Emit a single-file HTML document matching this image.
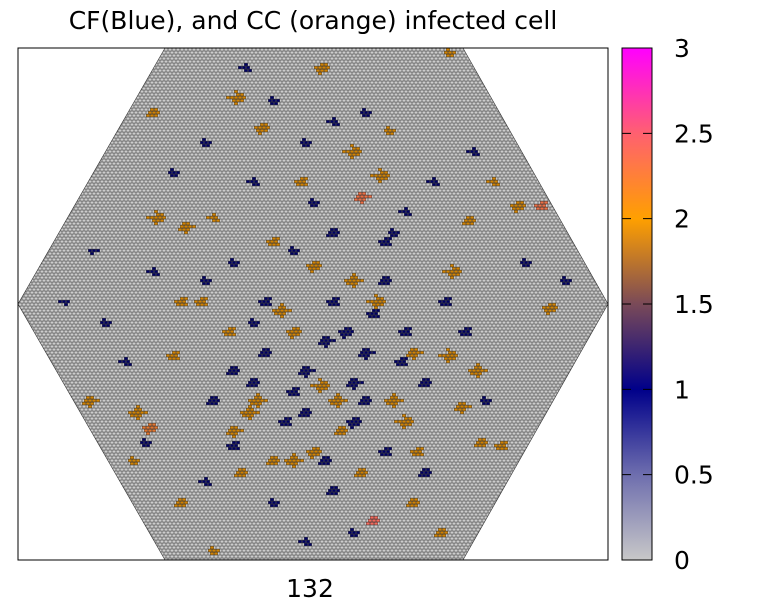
<!DOCTYPE html>
<html><head><meta charset="utf-8"><style>
html,body{margin:0;padding:0;background:#fff;}
svg{display:block;font-family:"DejaVu Sans","Liberation Sans",sans-serif;}
</style></head><body>
<svg id="chart" width="767" height="600" viewBox="0 0 767 600">
<defs>
<pattern id="hexpat" x="0" y="0" width="4" height="6" patternUnits="userSpaceOnUse">
<rect width="4" height="6" fill="#5a5a5a"/>
<rect x="0.4" y="0.4" width="3.2" height="2.3" fill="#cdcdcd"/>
<rect x="2.4" y="3.4" width="3.2" height="2.3" fill="#cdcdcd"/>
<rect x="-1.6" y="3.4" width="3.2" height="2.3" fill="#cdcdcd"/>
</pattern>
<linearGradient id="cbgrad" x1="0" y1="1" x2="0" y2="0">
<stop offset="0" stop-color="#c8c8c8"/>
<stop offset="0.1667" stop-color="#6e6eae"/>
<stop offset="0.3333" stop-color="#00008a"/>
<stop offset="0.5" stop-color="#7a4a58"/>
<stop offset="0.6667" stop-color="#ffa000"/>
<stop offset="0.8333" stop-color="#ff6070"/>
<stop offset="1" stop-color="#ff00ff"/>
</linearGradient>
</defs>
<text x="313" y="29" font-size="25" text-anchor="middle" fill="#000">CF(Blue), and CC (orange) infected cell</text>
<rect x="18" y="48" width="590" height="512" fill="#fff" stroke="#000" stroke-width="1"/>
<polygon points="165,48 463,48 608,304 463,560 165,560 18,304" fill="url(#hexpat)"/>
<g id="cells"></g>
<polygon points="165,48 463,48 608,304 463,560 165,560 18,304" fill="none" stroke="#333" stroke-width="0.6"/>
<rect x="18" y="48" width="590" height="512" fill="none" stroke="#000" stroke-width="1"/>
<text x="310" y="597" font-size="25" text-anchor="middle" fill="#000">132</text>
<rect x="622" y="48" width="30" height="512" fill="url(#cbgrad)" stroke="#000" stroke-width="1"/>
<g id="cbticks"></g>
</svg>
<script>
// grid units: col (0..147), row (0..170)
const orangeCells = [[54,16],[75,6],[33,21],[60,26],[34,56],[41,59],[83,34],[90,42],[85,49],[73,72],[83,77],[89,84],[65,87],[68,94],[108,74],[107,102],[114,107],[98,101],[132,86],[124,52],[130,52],[112,57],[17,117],[29,121],[32,126],[57,121],[59,117],[53,127],[75,112],[79,117],[93,117],[96,124],[110,119],[68,137],[73,134],[40,151],[48,167],[88,157],[105,161],[98,151],[28,137],[115,131],[120,132],[40,84],[45,84],[52,94],[38,102],[55,141],[63,137],[92,27],[107,1],[48,56],[70,44],[63,64],[80,127],[99,134],[85,141],[118,44]];
const orangeSizes = [12,10,8,10,12,10,12,12,10,10,12,12,12,10,12,12,12,10,10,10,8,8,10,12,10,12,12,10,12,12,12,12,10,12,10,8,6,8,8,8,6,8,8,8,8,8,8,8,8,6,6,6,8,8,8,8,8,6];
const orangeValues = [2,2,2,2,2,2,2,2,2.3,2,2,2,2,2,2,2,2,2,2,2,2.3,2,2,2,2.2,2,2,2,2,2,2,2,2,2,2,2,2,2.4,2,2,2,2,2,2,2,2,2,2,2,2,2,2,2,2,2,2,2,2];
const blueCells = [[56,6],[63,17],[46,31],[71,31],[78,24],[86,21],[58,44],[73,51],[78,61],[91,64],[68,67],[81,94],[76,97],[86,101],[71,107],[58,111],[96,94],[101,111],[106,84],[111,94],[46,77],[33,74],[21,91],[26,104],[48,117],[53,132],[71,121],[83,124],[91,134],[63,151],[78,147],[101,141],[116,117],[38,41],[53,71],[96,54],[113,34],[126,71],[136,77],[11,84],[18,67],[31,131],[46,144],[83,161],[71,164],[91,77],[61,84],[78,84],[83,111],[66,124],[61,101],[53,107],[88,88],[95,104],[68,114],[76,137],[86,117],[58,91],[93,61],[103,44]];
const blueSizes = [6,6,6,6,6,6,6,6,8,8,6,10,10,10,10,8,8,8,8,8,6,6,6,6,8,8,8,10,8,6,8,8,6,6,6,6,6,6,6,4,4,6,6,6,6,8,8,8,10,8,8,8,8,8,8,8,8,6,6,6];
const blueValue = 1;
const cbTicks = [0,0.5,1,1.5,2,2.5,3];
const cbTickLabels = ["0","0.5","1","1.5","2","2.5","3"];

const ns="http://www.w3.org/2000/svg";
const X0=18, Y0=48, CW=4, RH=3;
function xCell(col,row){return X0+col*CW+(row%2)*2;}
function yCell(row){return Y0+row*RH;}
function color(v){
  const stops=[[0,[200,200,200]],[0.5,[110,110,174]],[1,[0,0,100]],[1.5,[122,74,88]],[2,[210,130,0]],[2.5,[255,96,112]],[3,[255,0,255]]];
  for(let i=1;i<stops.length;i++){ if(v<=stops[i][0]){const a=stops[i-1],b=stops[i];const t=(v-a[0])/(b[0]-a[0]);
    const c=a[1].map((x,k)=>Math.round(x+(b[1][k]-x)*t));return `rgb(${c[0]},${c[1]},${c[2]})`;}}
  return "rgb(255,0,255)";
}
const offsets=[[0,0],[1,0],[0,1],[-1,0],[0,-1],[1,1],[-1,1],[1,-1],[2,0],[0,2],[-2,0],[0,-2],[2,2],[-1,-2],[3,1],[-2,2]];
const g=document.getElementById('cells');
function drawCluster(c,n,v){
  for(let k=0;k<n&&k<offsets.length;k++){
    const col=c[0]+offsets[k][0], row=c[1]+offsets[k][1];
    const r=document.createElementNS(ns,'rect');
    r.setAttribute('x',xCell(col,row)+0.3);r.setAttribute('y',yCell(row)+0.3);
    r.setAttribute('width',3.4);r.setAttribute('height',2.6);
    r.setAttribute('fill',color(v));r.setAttribute('stroke','#222');r.setAttribute('stroke-width','0.3');
    
    
    g.appendChild(r);
  }
}
blueCells.forEach((c,i)=>drawCluster(c,blueSizes[i],blueValue));
orangeCells.forEach((c,i)=>drawCluster(c,orangeSizes[i],orangeValues[i]));

const tg=document.getElementById('cbticks');
function yCb(v){return 560-v/3*512;}
cbTicks.forEach((v,i)=>{
  const y=yCb(v);
  if(v>0&&v<3){
    const l=document.createElementNS(ns,'line');
    l.setAttribute('x1',622);l.setAttribute('x2',652);l.setAttribute('y1',y);l.setAttribute('y2',y);
    l.setAttribute('stroke','#000');l.setAttribute('stroke-width','1');l.setAttribute('stroke-dasharray','9,12,9');
    
    
    tg.appendChild(l);
  }
  const t=document.createElementNS(ns,'text');
  t.setAttribute('x',674);t.setAttribute('y',y+9);t.setAttribute('font-size','25');
  t.textContent=cbTickLabels[i];
  
  
  tg.appendChild(t);
});
</script>
</body></html>
